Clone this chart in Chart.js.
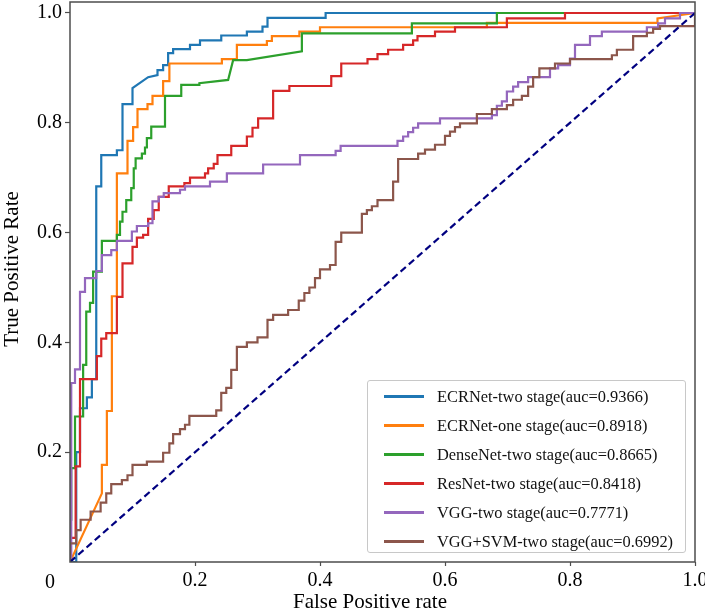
<!DOCTYPE html>
<html>
<head>
<meta charset="utf-8">
<script src="https://cdn.jsdelivr.net/npm/chart.js@4.4.1/dist/chart.umd.min.js"></script>
<style>
  body { margin: 0; background: #fff; }
  #wrap { position: relative; width: 705px; height: 613px; }
  #legend {
    position: absolute; left: 367px; top: 380px; width: 319px; height: 173px;
    box-sizing: border-box; border: 1px solid #c8c8c8; border-radius: 3px;
    background: rgba(255,255,255,0.85); padding-top: 1px;
    font-family: 'Liberation Serif', 'Times New Roman', serif; font-size: 16.4px; color: #111;
  }
  .row { height: 29px; display: flex; align-items: center; }
  .swatch { width: 40px; height: 2.5px; margin-left: 16px; margin-right: 13px; }
</style>
</head>
<body>
<div id="wrap">
  <canvas id="roc" width="705" height="613"></canvas>
  <div id="legend"></div>
</div>
<script>
// legend names
var SERIES_NAMES = [
    "ECRNet-two stage(auc=0.9366)",
    "ECRNet-one stage(auc=0.8918)",
    "DenseNet-two stage(auc=0.8665)",
    "ResNet-two stage(auc=0.8418)",
    "VGG-two stage(auc=0.7771)",
    "VGG+SVM-two stage(auc=0.6992)"
];

// ROC vertices [fpr, tpr]
var ECRNET_TWO = [[0,0],[0.01,0],[0.01,0.2],[0.016,0.2],[0.016,0.28],[0.027,0.28],[0.027,0.3],[0.035,0.3],[0.035,0.333],[0.042,0.333],[0.042,0.684],[0.05,0.684],[0.05,0.741],[0.075,0.741],[0.075,0.75],[0.084,0.75],[0.084,0.834],[0.1,0.834],[0.1,0.863],[0.125,0.883],[0.14,0.887],[0.14,0.896],[0.149,0.896],[0.149,0.905],[0.157,0.905],[0.157,0.927],[0.165,0.927],[0.165,0.934],[0.192,0.934],[0.192,0.942],[0.208,0.942],[0.208,0.95],[0.242,0.95],[0.242,0.959],[0.283,0.959],[0.283,0.966],[0.308,0.966],[0.308,0.975],[0.316,0.975],[0.316,0.991],[0.409,0.991],[0.409,1],[1,1]];

var ECRNET_ONE = [[0,0],[0.051,0.125],[0.051,0.177],[0.059,0.177],[0.059,0.275],[0.067,0.275],[0.067,0.484],[0.075,0.484],[0.075,0.708],[0.092,0.708],[0.092,0.767],[0.101,0.767],[0.101,0.792],[0.108,0.792],[0.108,0.825],[0.124,0.825],[0.124,0.834],[0.132,0.834],[0.132,0.849],[0.149,0.849],[0.149,0.876],[0.159,0.876],[0.159,0.908],[0.243,0.908],[0.243,0.916],[0.267,0.916],[0.267,0.942],[0.315,0.942],[0.315,0.949],[0.323,0.949],[0.323,0.958],[0.367,0.958],[0.367,0.966],[0.4,0.966],[0.4,0.974],[0.667,0.974],[0.667,0.982],[0.94,0.982],[0.94,0.99],[1,1]];

var DENSENET_TWO = [[0,0],[0,0.077],[0.002,0.077],[0.002,0.171],[0.008,0.171],[0.008,0.265],[0.021,0.265],[0.021,0.359],[0.026,0.359],[0.026,0.456],[0.032,0.456],[0.032,0.472],[0.037,0.472],[0.037,0.529],[0.051,0.529],[0.051,0.585],[0.075,0.585],[0.075,0.596],[0.08,0.596],[0.08,0.62],[0.084,0.62],[0.084,0.638],[0.09,0.638],[0.09,0.659],[0.098,0.659],[0.098,0.681],[0.102,0.681],[0.102,0.717],[0.105,0.717],[0.105,0.735],[0.115,0.735],[0.115,0.744],[0.12,0.744],[0.12,0.755],[0.123,0.755],[0.123,0.772],[0.13,0.772],[0.13,0.793],[0.152,0.793],[0.152,0.849],[0.178,0.849],[0.178,0.869],[0.207,0.869],[0.207,0.872],[0.253,0.878],[0.261,0.914],[0.283,0.914],[0.371,0.93],[0.371,0.963],[0.547,0.963],[0.547,0.981],[0.683,0.981],[0.683,1],[1,1]];

var RESNET_TWO = [[0,0],[0,0.044],[0.009,0.044],[0.009,0.174],[0.016,0.174],[0.016,0.333],[0.043,0.333],[0.043,0.375],[0.05,0.375],[0.05,0.407],[0.058,0.407],[0.058,0.417],[0.075,0.417],[0.075,0.483],[0.084,0.483],[0.084,0.544],[0.1,0.544],[0.1,0.574],[0.107,0.574],[0.107,0.591],[0.117,0.591],[0.117,0.596],[0.125,0.596],[0.125,0.625],[0.134,0.625],[0.134,0.641],[0.142,0.641],[0.142,0.665],[0.158,0.665],[0.158,0.684],[0.183,0.684],[0.183,0.69],[0.192,0.69],[0.192,0.7],[0.216,0.7],[0.216,0.708],[0.221,0.708],[0.221,0.717],[0.23,0.717],[0.23,0.725],[0.236,0.725],[0.236,0.741],[0.258,0.741],[0.258,0.758],[0.283,0.758],[0.283,0.775],[0.292,0.775],[0.292,0.791],[0.301,0.791],[0.301,0.808],[0.325,0.808],[0.325,0.858],[0.351,0.858],[0.351,0.867],[0.418,0.867],[0.418,0.885],[0.434,0.885],[0.434,0.908],[0.476,0.908],[0.476,0.916],[0.492,0.916],[0.492,0.925],[0.509,0.925],[0.509,0.933],[0.533,0.933],[0.533,0.942],[0.549,0.942],[0.549,0.95],[0.556,0.95],[0.556,0.958],[0.584,0.958],[0.584,0.966],[0.616,0.966],[0.616,0.974],[0.699,0.974],[0.699,0.99],[0.792,0.99],[0.792,1],[1,1]];

var VGG_TWO = [[0,0],[0.002,0],[0.002,0.326],[0.008,0.326],[0.008,0.351],[0.016,0.351],[0.016,0.492],[0.024,0.492],[0.024,0.517],[0.042,0.517],[0.042,0.53],[0.051,0.53],[0.051,0.559],[0.066,0.559],[0.066,0.568],[0.075,0.568],[0.075,0.585],[0.099,0.585],[0.099,0.602],[0.107,0.602],[0.107,0.612],[0.125,0.612],[0.125,0.617],[0.132,0.617],[0.132,0.657],[0.142,0.657],[0.142,0.665],[0.15,0.665],[0.15,0.672],[0.176,0.672],[0.176,0.678],[0.184,0.678],[0.184,0.684],[0.224,0.684],[0.224,0.693],[0.251,0.693],[0.251,0.708],[0.309,0.708],[0.309,0.724],[0.368,0.724],[0.368,0.741],[0.425,0.741],[0.425,0.749],[0.433,0.749],[0.433,0.758],[0.524,0.758],[0.524,0.767],[0.533,0.767],[0.533,0.775],[0.541,0.775],[0.541,0.783],[0.549,0.783],[0.549,0.791],[0.557,0.791],[0.557,0.799],[0.592,0.799],[0.592,0.808],[0.675,0.808],[0.675,0.814],[0.683,0.814],[0.683,0.831],[0.691,0.831],[0.691,0.839],[0.699,0.839],[0.699,0.857],[0.709,0.857],[0.709,0.866],[0.717,0.866],[0.717,0.874],[0.733,0.874],[0.733,0.883],[0.768,0.883],[0.768,0.899],[0.781,0.899],[0.781,0.905],[0.8,0.905],[0.8,0.917],[0.808,0.917],[0.808,0.942],[0.832,0.942],[0.832,0.958],[0.851,0.958],[0.851,0.966],[0.923,0.966],[0.923,0.974],[0.941,0.974],[0.941,0.981],[0.952,0.981],[0.952,0.99],[0.976,0.99],[0.976,1],[1,1]];

var VGG_SVM_TWO = [[0,0],[0,0.034],[0.01,0.034],[0.01,0.058],[0.017,0.058],[0.017,0.077],[0.033,0.077],[0.033,0.092],[0.049,0.092],[0.049,0.108],[0.058,0.108],[0.058,0.125],[0.066,0.125],[0.066,0.142],[0.083,0.142],[0.083,0.149],[0.092,0.149],[0.092,0.158],[0.1,0.158],[0.1,0.177],[0.123,0.177],[0.123,0.183],[0.149,0.183],[0.149,0.199],[0.159,0.199],[0.159,0.216],[0.165,0.216],[0.165,0.233],[0.176,0.233],[0.176,0.242],[0.184,0.242],[0.184,0.25],[0.191,0.25],[0.191,0.266],[0.234,0.266],[0.234,0.276],[0.242,0.276],[0.242,0.308],[0.25,0.308],[0.25,0.317],[0.258,0.317],[0.258,0.35],[0.267,0.35],[0.267,0.392],[0.283,0.392],[0.283,0.4],[0.3,0.4],[0.3,0.409],[0.316,0.409],[0.316,0.441],[0.325,0.441],[0.325,0.45],[0.349,0.45],[0.349,0.459],[0.366,0.459],[0.366,0.476],[0.375,0.476],[0.375,0.49],[0.383,0.49],[0.383,0.5],[0.392,0.5],[0.392,0.517],[0.4,0.517],[0.4,0.533],[0.416,0.533],[0.416,0.541],[0.425,0.541],[0.425,0.583],[0.434,0.583],[0.434,0.6],[0.467,0.6],[0.467,0.634],[0.475,0.634],[0.475,0.641],[0.483,0.641],[0.483,0.648],[0.492,0.648],[0.492,0.659],[0.517,0.659],[0.517,0.693],[0.525,0.693],[0.525,0.734],[0.557,0.734],[0.557,0.744],[0.568,0.744],[0.568,0.751],[0.584,0.751],[0.584,0.76],[0.6,0.76],[0.6,0.776],[0.608,0.776],[0.608,0.784],[0.616,0.784],[0.616,0.792],[0.624,0.792],[0.624,0.799],[0.651,0.799],[0.651,0.816],[0.675,0.816],[0.675,0.825],[0.699,0.825],[0.699,0.832],[0.709,0.832],[0.709,0.842],[0.723,0.842],[0.723,0.849],[0.733,0.849],[0.733,0.866],[0.741,0.866],[0.741,0.883],[0.751,0.883],[0.751,0.899],[0.776,0.899],[0.776,0.908],[0.8,0.908],[0.8,0.916],[0.867,0.916],[0.867,0.923],[0.875,0.923],[0.875,0.933],[0.901,0.933],[0.901,0.958],[0.923,0.958],[0.923,0.964],[0.933,0.964],[0.933,0.971],[0.944,0.971],[0.944,0.976],[1,0.976],[1,1]];

var CHANCE = [[0,0],[1,1]];

var X_TICKS = [0.2, 0.4, 0.6, 0.8, 1.0];
var Y_TICKS = [0.2, 0.4, 0.6, 0.8, 1.0];
var X_TITLE = "False Positive rate";
var Y_TITLE = "True Positive Rate";

var SERIES = [ECRNET_TWO, ECRNET_ONE, DENSENET_TWO, RESNET_TWO, VGG_TWO, VGG_SVM_TWO];
var COLORS = ["#1f77b4", "#ff7f0e", "#2ca02c", "#d62728", "#9467bd", "#8c564b"];
var SERIF = "'Liberation Serif', 'Times New Roman', serif";

function toXY(arr) {
    return arr.map(function (p) { return {x: p[0], y: p[1]}; });
}

var datasets = SERIES.map(function (s, i) {
    return {
        label: SERIES_NAMES[i],
        data: toXY(s),
        borderColor: COLORS[i],
        borderWidth: 2.2,
        pointRadius: 0,
        tension: 0,
        fill: false,
        order: SERIES.length - i + 1   // later curves on top, like matplotlib
    };
});
datasets.push({
    label: "chance",
    data: toXY(CHANCE),
    borderColor: "#000080",
    borderWidth: 2.2,
    borderDash: [7, 4],
    pointRadius: 0,
    fill: false,
    order: 0
});

// plot frame, the "0" at the origin corner and the two axis titles
var framePlugin = {
    id: "frame",
    afterDraw: function (chart) {
        var ctx = chart.ctx, a = chart.chartArea;
        ctx.save();
        ctx.strokeStyle = "#4d4d4d";
        ctx.lineWidth = 1.5;
        ctx.strokeRect(a.left, a.top, a.right - a.left, a.bottom - a.top);
        ctx.fillStyle = "#000";
        ctx.textAlign = "center";
        ctx.textBaseline = "middle";
        ctx.font = "20px " + SERIF;
        ctx.fillText("0", a.left - 20, a.bottom + 21);
        ctx.font = "21px " + SERIF;
        ctx.fillText(X_TITLE, 370, 602);
        ctx.translate(12, 269);
        ctx.rotate(-Math.PI / 2);
        ctx.fillText(Y_TITLE, 0, 0);
        ctx.restore();
    }
};

function noEdgePadding(scale) {
    scale.paddingLeft = 0;
    scale.paddingRight = 0;
    scale.paddingTop = 0;
    scale.paddingBottom = 0;
}

var ctx = document.getElementById("roc").getContext("2d");
var rocChart = new Chart(ctx, {
    type: "line",
    data: { datasets: datasets },
    plugins: [framePlugin],
    options: {
        responsive: false,
        animation: false,
        layout: { padding: { top: 2, right: 10, left: 0, bottom: 0 } },
        plugins: {
            legend: { display: false },
            tooltip: { enabled: false }
        },
        scales: {
            x: {
                type: "linear",
                min: 0,
                max: 1,
                afterBuildTicks: function (scale) {
                    scale.ticks = X_TICKS.map(function (v) { return {value: v}; });
                },
                afterFit: function (scale) { scale.height = 51; noEdgePadding(scale); },
                border: { display: false },
                grid: { drawOnChartArea: false, drawTicks: true, tickLength: 4, color: "#4d4d4d", tickWidth: 1.2 },
                ticks: {
                    color: "#000",
                    padding: 3,
                    maxRotation: 0,
                    font: { family: SERIF, size: 20 },
                    callback: function (v) { return v.toFixed(1); }
                }
            },
            y: {
                type: "linear",
                min: 0,
                max: 1.02,
                afterBuildTicks: function (scale) {
                    scale.ticks = Y_TICKS.map(function (v) { return {value: v}; });
                },
                afterFit: function (scale) { scale.width = 70; noEdgePadding(scale); },
                border: { display: false },
                grid: { drawOnChartArea: false, drawTicks: true, tickLength: 5, color: "#4d4d4d", tickWidth: 1.2 },
                ticks: {
                    color: "#000",
                    padding: 3,
                    font: { family: SERIF, size: 20 },
                    callback: function (v) { return v.toFixed(1); }
                }
            }
        }
    }
});

// legend box, built from the same names and colours
var legendBox = document.getElementById("legend");
SERIES_NAMES.forEach(function (name, i) {
    var row = document.createElement("div");
    row.className = "row";
    var sw = document.createElement("span");
    sw.className = "swatch";
    sw.style.background = COLORS[i];
    var txt = document.createElement("span");
    txt.textContent = name;
    row.appendChild(sw);
    row.appendChild(txt);
    legendBox.appendChild(row);
});
</script>
</body>
</html>
